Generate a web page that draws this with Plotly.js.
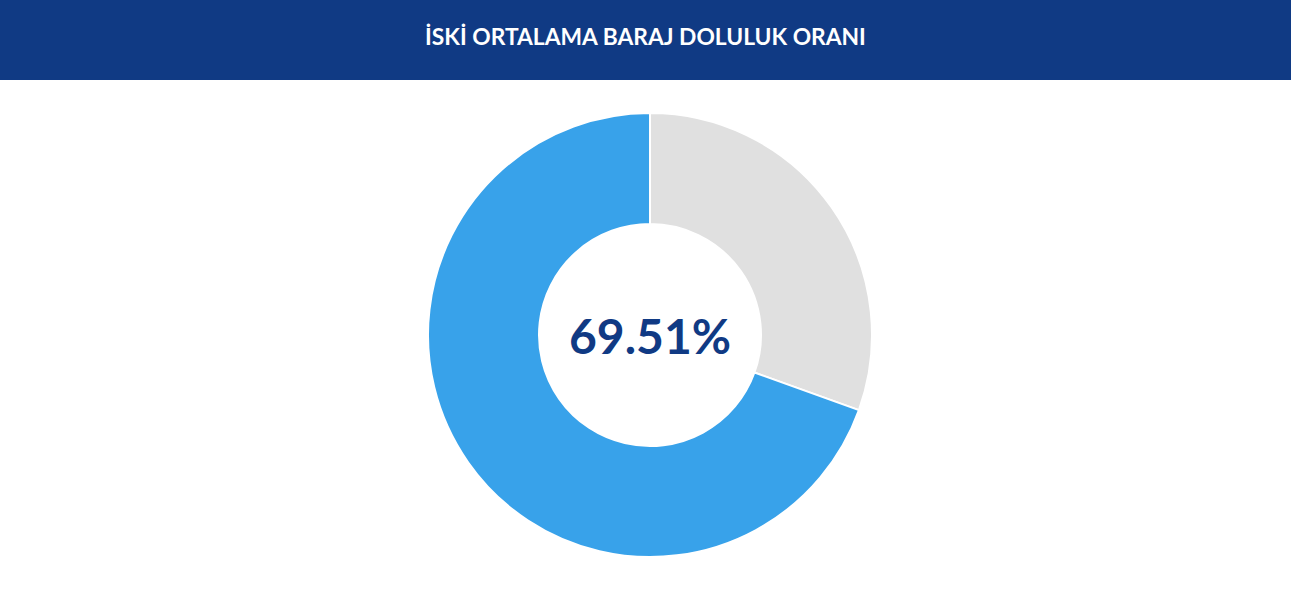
<!DOCTYPE html>
<html>
<head>
<meta charset="utf-8">
<script src="https://cdn.plot.ly/plotly-3.0.1.min.js"></script>
<style>
  html, body { margin: 0; padding: 0; background: #ffffff; }
  #chart { width: 1291px; height: 610px; }
</style>
</head>
<body>
<div id="chart"></div>
<script>
var title_text = 'İSKİ ORTALAMA BARAJ DOLULUK ORANI';
// clockwise from 12 o'clock: empty part first, then the filled part
var slice_labels = ['Boş', 'Dolu'];
var slice_values = [30.49, 69.51];
var slice_colors = ['#e0e0e0', '#38a2ea'];
var center_label = '69.51%';

function on_start(){
    var chart = document.getElementById('chart');

    var data = [{
        type: 'pie',
        labels: slice_labels,
        values: slice_values,
        hole: 0.5,
        sort: false,
        direction: 'clockwise',
        rotation: 0,
        textinfo: 'none',
        hoverinfo: 'none',
        showlegend: false,
        marker: {colors: slice_colors, line: {color: '#ffffff', width: 2}}
      }];

    var layout = {
        width: 1291,
        height: 610,
        margin: {t: 113, b: 53, l: 9, r: 0},
        paper_bgcolor: '#ffffff',
        font: {family: 'Lato, "Open Sans", sans-serif'},
        title: {
            text: '<b>' + title_text + '</b>',
            font: {size: 22.8, color: '#ffffff', family: 'Lato, "Open Sans", sans-serif'},
            x: 0.5, xanchor: 'center',
            y: 1 - 37 / 610, yref: 'container', yanchor: 'middle'
        },
        // dark header band above the donut
        shapes: [{
            type: 'rect', xref: 'paper', yref: 'paper',
            x0: -0.01, x1: 1.01, y0: 1 + 33 / 444, y1: 1.5,
            fillcolor: '#103a84', line: {width: 0}, layer: 'below'
        }],
        annotations: [{
            text: '<b>' + center_label + '</b>',
            x: 0.5, y: 0.5, xref: 'paper', yref: 'paper',
            showarrow: false,
            font: {size: 48, color: '#103a84', family: 'Lato, "Open Sans", sans-serif'}
        }]
    };

    Plotly.newPlot(chart, data, layout, {displayModeBar: false, staticPlot: true});
}

on_start();
</script>
</body>
</html>
